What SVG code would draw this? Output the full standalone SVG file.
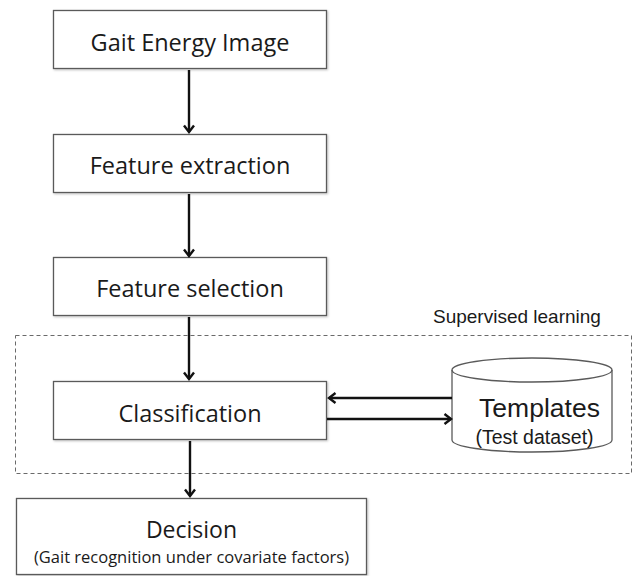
<svg xmlns="http://www.w3.org/2000/svg" width="633" height="576" viewBox="0 0 633 576">
  <style>
    .box { fill: #ffffff; stroke: #5a5a5a; stroke-width: 1.3; }
    .lbl { font-family: "Open Sans", "Liberation Sans", sans-serif; fill: #1a1a1a; text-anchor: middle; }
    .sans { font-family: "Liberation Sans", Arial, sans-serif; fill: #1a1a1a; }
    .conn { stroke: #111111; stroke-width: 2.4; fill: none; marker-end: url(#head); }
    .group { fill: none; stroke: #6a6a6a; stroke-width: 1; stroke-dasharray: 4 3; }
  </style>
  <defs>
    <marker id="head" markerUnits="userSpaceOnUse" markerWidth="14" markerHeight="14" refX="10" refY="7" orient="auto">
      <path d="M3.5,2 L10,7 L3.5,12" fill="none" stroke="#111111" stroke-width="2.4"/>
    </marker>
    <filter id="shadow" x="-5%" y="-10%" width="110%" height="130%">
      <feDropShadow dx="1" dy="1" stdDeviation="0.8" flood-color="#000" flood-opacity="0.25"/>
    </filter>
  </defs>
  <rect width="633" height="576" fill="#ffffff"/>

  <!-- dashed region around the learning stage -->
  <g id="supervised-learning">
    <rect class="group" x="15.5" y="335.5" width="616" height="138"/>
    <text class="sans" x="433" y="323" font-size="19">Supervised learning</text>
  </g>

  <g id="gait-energy-image">
    <rect class="box" x="53.5" y="10.5" width="273" height="58" filter="url(#shadow)"/>
    <text class="lbl" x="190" y="51" font-size="23.5">Gait Energy Image</text>
  </g>

  <g id="feature-extraction">
    <rect class="box" x="53.5" y="134.5" width="273" height="58" filter="url(#shadow)"/>
    <text class="lbl" x="190" y="174" font-size="23.5">Feature extraction</text>
  </g>

  <g id="feature-selection">
    <rect class="box" x="53.5" y="257.5" width="273" height="58" filter="url(#shadow)"/>
    <text class="lbl" x="190" y="297" font-size="23.5">Feature selection</text>
  </g>

  <g id="classification">
    <rect class="box" x="53.5" y="381.5" width="273" height="58" filter="url(#shadow)"/>
    <text class="lbl" x="190" y="422" font-size="23.5">Classification</text>
  </g>

  <g id="templates">
    <path class="box" d="M452,370 A80,12 0 0,1 612,370 L612,440 A80,12 0 0,1 452,440 Z"/>
    <path d="M452,370 A80,12 0 0,0 612,370" fill="none" stroke="#5a5a5a" stroke-width="1.3"/>
    <text class="sans" x="539.5" y="417" font-size="26.5" text-anchor="middle">Templates</text>
    <text class="sans" x="534.5" y="444" font-size="19.5" text-anchor="middle">(Test dataset)</text>
  </g>

  <g id="decision">
    <rect class="box" x="16.5" y="498.5" width="350" height="76" filter="url(#shadow)"/>
    <text class="lbl" x="191.5" y="538" font-size="23">Decision</text>
    <text class="lbl" x="191.5" y="563" font-size="16.5">(Gait recognition under covariate factors)</text>
  </g>

  <g id="connectors">
    <line class="conn" x1="189" y1="70" x2="189" y2="132"/>
    <line class="conn" x1="189" y1="194" x2="189" y2="256"/>
    <line class="conn" x1="189" y1="317" x2="189" y2="379"/>
    <line class="conn" x1="190" y1="441" x2="190" y2="496"/>
    <line class="conn" x1="452" y1="398" x2="329" y2="398"/>
    <line class="conn" x1="327" y1="419" x2="451" y2="419"/>
  </g>
</svg>
